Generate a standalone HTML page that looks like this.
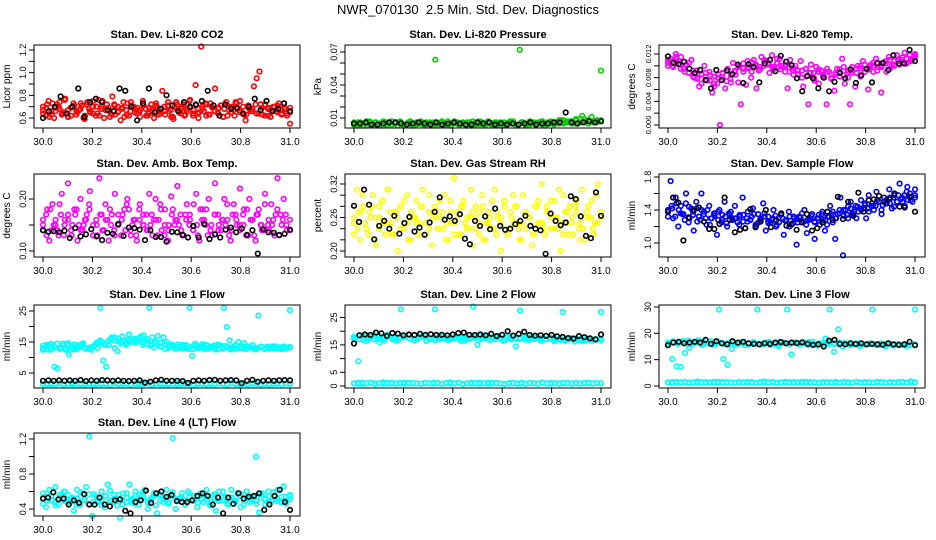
<!DOCTYPE html>
<html><head><meta charset="utf-8"><style>
html,body{margin:0;padding:0;background:#fff;}
svg{display:block;font-family:"Liberation Sans",Arial,sans-serif;}
</style></head><body>
<svg id="chart" width="936" height="540" viewBox="0 0 936 540" xmlns="http://www.w3.org/2000/svg">
<rect width="936" height="540" fill="#fff"/>
<text x="468" y="14" text-anchor="middle" font-size="13" xml:space="preserve">NWR_070130  2.5 Min. Std. Dev. Diagnostics</text>
</svg>
<script>
// ---- data ----
const xTicks = [30.0,30.2,30.4,30.6,30.8,31.0];
const xTickLabels = ["30.0","30.2","30.4","30.6","30.8","31.0"];

const co2Red1 = [0.70,0.62,0.75,0.66,0.60,0.72,0.68,0.64,0.77,0.61,0.69,0.73,0.63,0.67,0.71,0.59,0.74,0.65,0.70,0.62,0.76,0.68,0.60,0.72,0.66,0.79,0.63,0.70,0.58,0.74,0.67,0.62,0.71,0.65,0.69,0.61,0.75,0.68,0.64,0.72,0.60,0.70,0.66,0.84,0.63,0.71,0.67,0.59,0.74,0.65,0.70,0.62,0.68,0.76,0.64,0.89,0.60,1.23,0.66,0.72,0.63,0.69,0.86,0.65,0.71,0.61,0.74,0.67,0.70,0.62,0.68,0.75,0.64,0.58,0.71,0.66,0.88,0.95,1.01,0.63,0.72,0.68,0.61,0.70,0.66,0.73,0.64,0.69,0.62,0.55];
const co2Red2 = [0.64,0.69,0.61,0.73,0.66,0.70,0.63,0.76,0.67,0.62,0.71,0.65,0.68,0.60,0.72,0.66,0.64,0.70,0.62,0.75,0.67,0.69,0.63,0.71,0.65,0.68,0.61,0.73,0.66,0.70,0.64,0.67,0.72,0.62,0.69,0.65,0.71,0.63,0.68,0.66,0.74,0.61,0.70,0.67,0.64,0.72,0.66,0.69,0.62,0.71,0.65,0.68,0.73,0.63,0.70,0.66,0.64,0.71,0.68,0.62,0.69,0.67,0.73,0.65,0.70,0.63,0.68,0.66,0.72,0.64,0.69,0.71,0.62,0.67,0.70,0.65,0.68,0.73,0.64,0.69];
const co2Red3 = [0.67,0.72,0.63,0.69,0.74,0.65,0.61,0.70,0.66,0.73,0.62,0.68,0.75,0.64,0.70,0.67,0.61,0.72,0.66,0.69,0.63,0.74,0.68,0.65,0.71,0.62,0.67,0.73,0.64,0.70,0.66,0.61,0.72,0.68,0.63,0.75,0.67,0.64,0.70,0.62,0.73,0.66,0.69,0.61,0.71,0.65,0.74,0.67,0.63,0.70,0.68,0.64,0.72,0.62,0.69,0.66,0.71,0.63,0.68,0.65];
const co2Black = [0.60,0.66,0.70,0.79,0.64,0.70,0.86,0.61,0.74,0.77,0.74,0.67,0.66,0.86,0.84,0.70,0.58,0.73,0.86,0.65,0.68,0.80,0.71,0.66,0.74,0.70,0.72,0.75,0.84,0.71,0.62,0.72,0.68,0.69,0.64,0.70,0.77,0.67,0.75,0.66,0.68,0.73,0.66];

const presGreen1 = [0.005,0.004,0.006,0.003,0.005,0.007,0.004,0.006,0.003,0.005,0.006,0.004,0.007,0.005,0.003,0.006,0.004,0.005,0.007,0.003,0.006,0.005,0.004,0.006,0.005,0.003,0.063,0.005,0.006,0.004,0.007,0.003,0.005,0.006,0.004,0.005,0.003,0.006,0.007,0.004,0.005,0.006,0.003,0.005,0.004,0.006,0.005,0.003,0.006,0.004,0.007,0.005,0.004,0.072,0.006,0.003,0.005,0.006,0.004,0.005,0.007,0.003,0.006,0.005,0.004,0.006,0.008,0.005,0.006,0.007,0.005,0.009,0.006,0.012,0.007,0.005,0.011,0.006,0.007,0.053];
const presGreen2 = [0.006,0.003,0.005,0.007,0.004,0.006,0.005,0.003,0.006,0.004,0.005,0.007,0.003,0.006,0.005,0.004,0.006,0.003,0.005,0.006,0.004,0.007,0.005,0.003,0.006,0.004,0.005,0.006,0.003,0.005,0.007,0.004,0.006,0.005,0.003,0.006,0.004,0.005,0.007,0.003,0.006,0.005,0.004,0.006,0.005,0.007,0.004,0.006,0.005,0.008,0.006,0.007,0.005,0.008,0.006,0.009,0.007,0.006,0.008,0.007];
const presGreen3 = [0.004,0.006,0.005,0.003,0.006,0.004,0.005,0.007,0.004,0.003,0.006,0.005,0.004,0.006,0.003,0.005,0.007,0.004,0.006,0.005,0.003,0.006,0.004,0.005,0.007,0.004,0.006,0.003,0.005,0.006,0.004,0.005,0.007,0.003,0.006,0.005,0.004,0.006,0.005,0.003,0.006,0.004,0.007,0.005,0.006,0.004,0.005,0.007,0.006,0.005,0.008,0.006,0.007,0.005,0.009,0.006,0.008,0.007,0.006,0.008];
const presBlack = [0.005,0.005,0.006,0.004,0.004,0.005,0.006,0.006,0.005,0.004,0.005,0.006,0.005,0.004,0.006,0.004,0.005,0.006,0.005,0.004,0.004,0.006,0.005,0.006,0.004,0.005,0.004,0.005,0.004,0.005,0.006,0.004,0.005,0.005,0.006,0.006,0.015,0.006,0.005,0.006,0.007,0.006,0.007];

const tempMag1 = [0.0105,0.0112,0.0098,0.0120,0.0108,0.0115,0.0095,0.0102,0.0088,0.0110,0.0080,0.0092,0.0065,0.0085,0.0100,0.0075,0.0090,0.0055,0.0082,0.0070,0.0,0.0087,0.0062,0.0095,0.0078,0.0105,0.0085,0.0072,0.0035,0.0090,0.0068,0.0098,0.0080,0.0110,0.0062,0.0092,0.0115,0.0100,0.0108,0.0088,0.0118,0.0095,0.0105,0.0112,0.0098,0.0102,0.0062,0.0110,0.0092,0.0100,0.0085,0.0108,0.0065,0.0095,0.0035,0.0102,0.0088,0.0098,0.0070,0.0092,0.0080,0.0035,0.0090,0.0078,0.0058,0.0095,0.0082,0.0112,0.0070,0.0088,0.0035,0.0092,0.0065,0.0100,0.0082,0.0108,0.0095,0.0060,0.0102,0.0090,0.0112,0.0098,0.0055,0.0105,0.0090,0.0115,0.0100,0.0108,0.0118,0.0102,0.0110,0.0122,0.0105,0.0118,0.0110,0.0120];
const tempMag2 = [0.0110,0.0100,0.0115,0.0095,0.0090,0.0105,0.0082,0.0078,0.0070,0.0088,0.0075,0.0065,0.0085,0.0080,0.0092,0.0072,0.0090,0.0100,0.0095,0.0108,0.0090,0.0102,0.0098,0.0110,0.0105,0.0095,0.0112,0.0100,0.0090,0.0098,0.0085,0.0092,0.0080,0.0095,0.0088,0.0075,0.0090,0.0082,0.0095,0.0078,0.0085,0.0090,0.0098,0.0080,0.0088,0.0095,0.0100,0.0090,0.0098,0.0105,0.0092,0.0100,0.0108,0.0095,0.0102,0.0110,0.0105,0.0112,0.0108,0.0115];
const tempMag3 = [0.0100,0.0108,0.0112,0.0102,0.0096,0.0088,0.0092,0.0080,0.0086,0.0076,0.0084,0.0070,0.0080,0.0088,0.0074,0.0084,0.0092,0.0098,0.0104,0.0096,0.0106,0.0100,0.0094,0.0108,0.0102,0.0098,0.0104,0.0094,0.0100,0.0090,0.0096,0.0086,0.0092,0.0082,0.0088,0.0078,0.0094,0.0084,0.0090,0.0080,0.0088,0.0094,0.0084,0.0092,0.0098,0.0088,0.0096,0.0102,0.0094,0.0100,0.0106,0.0098,0.0104,0.0110,0.0100,0.0108,0.0114,0.0104,0.0112,0.0118];
const tempBlack = [0.0116,0.0105,0.0103,0.0107,0.0095,0.0088,0.0093,0.0076,0.0062,0.0093,0.0076,0.0092,0.0086,0.0102,0.0071,0.0103,0.0098,0.0072,0.0104,0.0110,0.0091,0.0117,0.0107,0.0101,0.0079,0.0057,0.0083,0.0079,0.0062,0.0080,0.0057,0.0073,0.0088,0.0079,0.0094,0.0071,0.0084,0.0095,0.0072,0.0104,0.0105,0.0093,0.0118,0.0104,0.0104,0.0127,0.0108];

const ambMag1 = [0.14,0.17,0.12,0.19,0.15,0.13,0.21,0.16,0.23,0.14,0.18,0.12,0.20,0.15,0.17,0.215,0.13,0.16,0.24,0.14,0.19,0.12,0.17,0.21,0.15,0.13,0.18,0.20,0.14,0.16,0.12,0.19,0.15,0.17,0.21,0.13,0.20,0.16,0.14,0.18,0.12,0.205,0.15,0.225,0.17,0.13,0.19,0.16,0.14,0.21,0.12,0.18,0.15,0.20,0.13,0.23,0.17,0.14,0.20,0.16,0.12,0.19,0.15,0.22,0.17,0.13,0.20,0.16,0.12,0.18,0.14,0.21,0.15,0.19,0.13,0.24,0.17,0.20,0.14,0.16];
const ambMag2 = [0.16,0.13,0.18,0.15,0.14,0.17,0.15,0.16,0.13,0.17,0.15,0.14,0.16,0.18,0.13,0.15,0.17,0.14,0.16,0.15,0.13,0.17,0.16,0.14,0.18,0.15,0.13,0.16,0.17,0.14,0.15,0.16,0.13,0.18,0.15,0.14,0.17,0.16,0.15,0.13,0.16,0.17,0.14,0.15,0.18,0.16,0.13,0.15,0.17,0.14,0.16,0.15,0.13,0.17,0.16,0.14,0.15,0.18,0.16,0.13,0.17,0.15,0.14,0.16,0.15,0.17,0.13,0.16,0.15,0.14];
const ambMag3 = [0.15,0.18,0.14,0.16,0.19,0.13,0.17,0.15,0.18,0.14,0.16,0.19,0.15,0.13,0.17,0.16,0.18,0.14,0.15,0.17,0.19,0.13,0.16,0.18,0.15,0.14,0.17,0.16,0.19,0.13,0.15,0.18,0.16,0.14,0.17,0.15,0.19,0.13,0.16,0.18,0.14,0.17,0.15,0.16,0.19,0.14,0.17,0.15,0.18,0.13,0.16,0.17,0.15,0.19,0.14,0.16,0.18,0.15,0.17,0.14];
const ambBlack = [0.140,0.137,0.138,0.136,0.139,0.125,0.144,0.128,0.132,0.142,0.128,0.121,0.135,0.133,0.152,0.129,0.145,0.144,0.141,0.121,0.140,0.127,0.127,0.118,0.137,0.136,0.131,0.126,0.148,0.126,0.152,0.123,0.132,0.126,0.141,0.145,0.136,0.143,0.131,0.140,0.095,0.142,0.136,0.135,0.131,0.133,0.141];

const rhYel1 = [0.25,0.31,0.22,0.28,0.24,0.27,0.30,0.21,0.26,0.29,0.23,0.31,0.25,0.27,0.20,0.28,0.24,0.30,0.22,0.26,0.29,0.25,0.31,0.23,0.27,0.21,0.28,0.24,0.26,0.30,0.22,0.25,0.33,0.27,0.23,0.29,0.24,0.26,0.21,0.28,0.25,0.30,0.22,0.27,0.24,0.31,0.26,0.20,0.29,0.23,0.27,0.25,0.28,0.22,0.30,0.24,0.26,0.21,0.28,0.25,0.32,0.23,0.27,0.29,0.24,0.26,0.20,0.30,0.25,0.28,0.23,0.27,0.24,0.31,0.22,0.26,0.29,0.25,0.32,0.27];
const rhYel2 = [0.26,0.24,0.27,0.25,0.23,0.28,0.26,0.24,0.29,0.25,0.27,0.23,0.26,0.28,0.24,0.25,0.27,0.26,0.23,0.28,0.25,0.24,0.27,0.26,0.29,0.24,0.25,0.27,0.23,0.26,0.28,0.25,0.24,0.27,0.26,0.23,0.28,0.25,0.26,0.24,0.27,0.25,0.29,0.23,0.26,0.28,0.24,0.25,0.27,0.26,0.23,0.28,0.25,0.24,0.27,0.26,0.29,0.24,0.25,0.27,0.23,0.26,0.28,0.25,0.24,0.27,0.26,0.23,0.25,0.27];
const rhYel3 = [0.23,0.27,0.30,0.24,0.26,0.22,0.28,0.25,0.31,0.23,0.27,0.24,0.29,0.22,0.26,0.25,0.28,0.23,0.30,0.26,0.24,0.27,0.22,0.29,0.25,0.23,0.28,0.26,0.31,0.24,0.27,0.22,0.25,0.29,0.23,0.26,0.28,0.24,0.30,0.25,0.22,0.27,0.26,0.23,0.29,0.25,0.28,0.24,0.26,0.31,0.23,0.27,0.25,0.29,0.22,0.26,0.28,0.24,0.30,0.26];
const rhBlack = [0.281,0.252,0.310,0.283,0.221,0.245,0.254,0.240,0.263,0.231,0.250,0.261,0.235,0.242,0.229,0.251,0.270,0.296,0.256,0.262,0.254,0.266,0.222,0.212,0.254,0.245,0.262,0.239,0.276,0.245,0.238,0.240,0.248,0.254,0.263,0.245,0.240,0.237,0.195,0.267,0.254,0.246,0.251,0.298,0.293,0.262,0.227,0.223,0.305,0.263];

const flowBlue1 = [1.40,1.75,1.30,1.55,1.20,1.45,1.35,1.60,1.25,1.42,1.15,1.50,1.32,1.60,1.38,1.22,1.45,1.30,1.35,1.10,1.40,1.28,1.50,1.20,1.35,1.30,1.45,1.25,1.32,1.55,1.18,1.38,1.28,1.42,1.22,1.35,1.30,1.48,1.15,1.32,1.25,1.40,1.20,1.30,1.35,1.10,1.28,1.38,1.22,1.30,0.98,1.32,1.25,1.40,1.12,1.28,1.35,1.05,1.30,1.22,1.38,1.15,1.32,1.45,1.25,1.05,1.35,1.55,0.85,1.40,1.30,1.50,1.35,1.45,1.38,1.52,1.42,1.30,1.58,1.45,1.40,1.62,1.50,1.35,1.55,1.48,1.65,1.42,1.58,1.50,1.72,1.55,1.45,1.68,1.60,1.50,1.65];
const flowBlue2 = [1.38,1.45,1.32,1.40,1.35,1.48,1.30,1.38,1.42,1.28,1.35,1.40,1.30,1.33,1.38,1.25,1.32,1.36,1.28,1.30,1.34,1.26,1.30,1.28,1.35,1.24,1.30,1.32,1.26,1.28,1.33,1.25,1.30,1.27,1.32,1.24,1.29,1.31,1.26,1.28,1.33,1.25,1.30,1.35,1.28,1.32,1.38,1.30,1.36,1.40,1.34,1.42,1.38,1.44,1.40,1.46,1.42,1.48,1.45,1.50,1.46,1.52,1.48,1.55,1.50,1.53,1.58,1.52,1.56,1.55];
const flowBlue3 = [1.32,1.42,1.48,1.36,1.28,1.44,1.34,1.26,1.40,1.30,1.22,1.36,1.28,1.34,1.24,1.38,1.30,1.22,1.34,1.26,1.32,1.20,1.28,1.36,1.24,1.30,1.22,1.34,1.27,1.20,1.32,1.25,1.36,1.22,1.30,1.26,1.34,1.28,1.22,1.35,1.30,1.40,1.33,1.44,1.36,1.30,1.42,1.48,1.38,1.45,1.52,1.40,1.48,1.55,1.44,1.58,1.50,1.62,1.52,1.58];
const flowBlack = [1.38,1.55,1.49,1.03,1.31,1.40,1.43,1.26,1.17,1.17,1.23,1.55,1.28,1.13,1.16,1.18,1.41,1.19,1.26,1.40,1.19,1.28,1.36,1.21,1.23,1.16,1.25,1.35,1.15,1.18,1.25,1.38,1.28,1.56,1.29,1.50,1.33,1.61,1.38,1.52,1.53,1.57,1.50,1.53,1.60,1.44,1.43,1.56,1.38];

const line1Cyan1 = [12.5,13.5,14,12.8,7,6.5,13.2,14.5,12.5,11,13.8,14.2,12.7,13.5,14.6,12.9,13.2,12.5,14,13.1,26,9,7,14,16.5,13,12,14.5,15.5,14,17.5,15,16,15.5,16.8,17.2,16,26,16.5,15.2,17,14.8,16.5,15,14,13.5,12.8,14.2,13.2,14,13,26,10.5,14.5,13,13.6,12.8,14,13,13.5,12.6,14.2,13.8,26,19.8,15.5,13,14,15,13.2,14.6,12.8,13.5,14,12.6,23.5,13.4,12.8,13.5,13,12.9,13.6,13.2,12.7,13.5,13,25.3];
const line1Cyan2 = [13,14,12.5,13.5,14.5,13,12.8,14,13.2,12.6,13.8,14.2,13,12.7,13.5,14.8,15.5,14.2,15,16,15.5,16.2,15,14.5,16,15.2,14.8,15.5,14,14.5,13.8,13.2,14,13.5,12.8,13.6,14.2,13,13.5,12.9,14,13.3,12.7,13.8,13.2,14.2,12.8,13.5,13.9,12.6,13.2,13.7,12.9,13.4,12.8,13.2,13.6,12.9,13.3,12.7,13.1,13.5,12.8,13.2,13.6,12.9,13.3,12.8,13.1,13.4];
const line1Cyan3 = [13.8,12.6,14.4,13.2,12.8,13.9,14.6,12.7,13.4,14.1,13.0,12.9,13.6,14.3,15.0,14.0,15.8,16.5,15.2,16.8,14.6,15.9,15.3,16.4,14.8,15.6,14.2,14.9,13.6,14.4,13.1,13.8,12.9,14.0,13.3,12.7,13.9,13.2,14.3,12.8,13.5,13.0,14.1,12.9,13.4,12.6,13.7,13.1,12.8,13.6,13.2,12.7,13.5,13.0,12.9,13.4,12.8,13.3,13.0,13.2];
const line1CyanLow = [1.5,1.3,1.7,1.4,1.6,1.2,1.5,1.8,1.4,1.6,1.3,1.5,1.7,1.4,1.6,1.5,1.3,1.7,1.5,1.4,1.6,1.3,1.5,1.8,1.4,1.6,1.2,1.5,1.7,1.4,1.6,1.5,1.3,1.7,1.5,1.4,1.2,1.6,1.5,1.3,1.7,1.4,1.6,1.5,1.3,1.7,1.4,1.6,1.5,1.3,1.7,1.5,1.4,1.6,1.3,1.5,1.7,1.4,1.6,1.5];
const line1CyanLow2 = [1.4,1.6,1.3,1.5,1.7,1.4,1.5,1.3,1.6,1.4,1.5,1.7,1.3,1.6,1.4,1.5,1.3,1.6,1.4,1.7,1.5,1.3,1.6,1.4,1.5,1.7,1.3,1.5,1.4,1.6,1.3,1.5,1.7,1.4,1.6,1.5,1.3,1.4,1.6,1.5,1.4,1.3,1.6,1.5,1.4,1.7,1.5,1.3,1.6,1.4,1.5,1.6,1.3,1.5,1.4,1.6,1.5,1.4,1.6,1.5];
const line1Black = [2.5,2.6,2.5,2.6,2.5,2.6,2.5,2.7,2.4,2.6,2.5,2.7,2.6,2.5,2.6,2.5,2.4,2.5,2.6,1.9,2.2,2.6,2.8,2.5,2.5,2.5,2.4,1.8,2.5,2.6,2.5,2.7,2.8,2.5,2.6,2.7,2.6,1.7,2.5,2.8,2.2,2.5,2.6,2.5,2.6,2.7,2.6];

const line2Cyan1 = [17.5,9,18.5,16.5,17.8,18.2,16,17.5,18.8,17,16.5,28,17.8,18.5,16.8,17.2,18,16.5,17.5,28,17,18.2,16.8,17.5,18,16.5,17.2,18.5,29,15,17.5,18,16.8,17.2,18.3,16.5,17.8,17,14.5,27.5,18,16.8,17.2,18,16.5,17,17.5,16.3,17,27,16.8,17.5,16.2,17,16.5,17.2,16.8,17,27];
const line2Cyan2 = [18,17,18.5,17.5,17,18.2,17.5,18,17.2,17.8,18.3,17.5,17,17.8,18,17.3,17.6,18.1,17.2,17.7,18,17.4,17.8,17.1,17.6,18.2,17.4,17.8,17.2,17.5,18,17.3,17.6,17.1,17.5,17.8,17.2,17.4,17,17.6,17.3,16.8,17.2,17.5,16.9,17.3,16.8,17,17.2,16.7];
const line2Cyan3 = [17.2,18.4,16.8,17.9,18.6,17.1,16.6,18.2,17.5,16.9,18.0,17.3,16.7,17.8,18.3,17.0,16.8,17.6,18.1,16.9,17.4,17.9,16.6,17.7,18.2,17.0,17.5,16.8,17.9,17.3,16.7,18.0,17.2,17.6,16.9,17.4,17.8,16.6,17.1,17.5,16.8,17.3,16.5,17.0,17.4,16.7,17.1,16.6,16.9,17.2];
const line2CyanLow = [1,0.8,1.2,0.9,1.1,0.7,1,1.3,0.9,1.1,0.8,1,1.2,0.9,1.1,1,0.8,1.2,1,0.9,1.1,0.8,1,1.3,0.9,1.1,0.7,1,1.2,0.9,1.1,1,0.8,1.2,1,0.9,0.7,1.1,1,0.8,1.2,0.9,1.1,1,0.8,1.2,0.9,1.1,1,0.8,1.2,1,0.9,1.1,0.8,1,1.2,0.9,1.1,1];
const line2CyanLow2 = [0.9,1.1,0.8,1.0,1.2,0.9,1.0,0.8,1.1,0.9,1.0,1.2,0.8,1.1,0.9,1.0,0.8,1.1,0.9,1.2,1.0,0.8,1.1,0.9,1.0,1.2,0.8,1.0,0.9,1.1,0.8,1.0,1.2,0.9,1.1,1.0,0.8,0.9,1.1,1.0,0.9,0.8,1.1,1.0,0.9,1.2,1.0,0.8,1.1,0.9,1.0,1.1,0.8,1.0,0.9,1.1,1.0,0.9,1.1,1.0];
const line2Black = [15.5,18.5,18.8,18.6,19.5,19.2,18.3,19.3,19.1,18.5,18.8,18.6,19,18.7,18.9,18.6,18.7,18.5,18.8,19.3,19.5,18.7,18.6,18.8,18.5,19,18.2,18.7,20,18.4,19,19.8,18.6,18.4,18.5,18.3,18.6,18.1,17.9,17.5,17.3,18.2,17.8,17.4,17,18.8];

const line3Cyan1 = [16,10.2,7.5,7.2,12.5,14.5,16,16.8,15.5,16.2,17,15.8,29,10.2,8,14,15.8,16.5,15.5,16.2,16,29,15.8,16.5,15.5,16,15.2,16.3,29,12,16.5,15.8,16.2,15.5,16.8,15.3,16,18,29,13,21.5,15,16,15.5,16.2,15.2,15.8,16,29,15.5,16.2,15,15.8,15.3,16,15.5,15.2,15.8,29];
const line3Cyan2 = [16.5,17,16,16.8,17.2,16.3,16.7,17,16.2,16.5,16.8,16,16.4,16.7,16.1,16.5,16.2,16.6,16,16.4,16.7,16.1,16.3,16.6,16,16.4,16.2,16.5,16.8,16.1,16.3,16.6,16,16.2,16.5,15.9,16.3,16,16.2,15.8,16.1,15.8,16,15.7,16,15.8,15.6,15.9,15.7,15.8];
const line3Cyan3 = [15.8,16.9,16.3,17.1,15.9,16.6,17.3,16.0,16.4,15.7,16.8,16.2,15.9,16.6,16.0,16.3,15.8,16.7,16.1,15.9,16.5,16.2,15.7,16.4,16.0,16.6,15.8,16.2,16.5,15.9,16.1,15.7,16.4,16.0,15.8,16.3,15.6,16.1,15.9,15.7,16.2,15.8,15.5,16.0,15.7,15.9,15.6,15.8,15.5,15.7];
const line3CyanLow = [1.4,1.2,1.6,1.3,1.5,1.1,1.4,1.7,1.3,1.5,1.2,1.4,1.6,1.3,1.5,1.4,1.2,1.6,1.4,1.3,1.5,1.2,1.4,1.7,1.3,1.5,1.1,1.4,1.6,1.3,1.5,1.4,1.2,1.6,1.4,1.3,1.1,1.5,1.4,1.2,1.6,1.3,1.5,1.4,1.2,1.6,1.3,1.5,1.4,1.2,1.6,1.4,1.3,1.5,1.2,1.4,1.6,1.3,1.8,1.4];
const line3CyanLow2 = [1.3,1.5,1.2,1.4,1.6,1.3,1.4,1.2,1.5,1.3,1.4,1.6,1.2,1.5,1.3,1.4,1.2,1.5,1.3,1.6,1.4,1.2,1.5,1.3,1.4,1.6,1.2,1.4,1.3,1.5,1.2,1.4,1.6,1.3,1.5,1.4,1.2,1.3,1.5,1.4,1.3,1.2,1.5,1.4,1.3,1.6,1.4,1.2,1.5,1.3,1.4,1.5,1.2,1.4,1.3,1.5,1.4,1.3,1.5,1.4];
const line3Black = [15.5,16.5,16.8,16.2,16.5,16.8,16.5,17.5,16,17,16.2,15.8,17,16.5,16.8,16.2,16,15.8,16.2,16,16.5,16.7,16.2,16.5,16.3,16.6,16,15.6,15.8,15,17.2,17.5,16,15.8,16.2,15.9,16.2,15.8,16,15.8,15.7,16.2,15.8,15.6,15.8,16.8,15.5];

const line4Cyan1 = [0.58,0.42,0.62,0.5,0.65,0.45,0.55,0.6,0.48,0.52,0.38,0.62,0.45,0.57,0.65,1.23,0.32,0.55,0.48,0.6,0.42,0.68,0.5,0.56,0.44,0.3,0.58,0.48,0.68,0.52,0.6,0.45,0.55,0.62,0.4,0.5,0.58,0.35,0.56,0.48,0.62,0.55,1.21,0.4,0.52,0.58,0.45,0.6,0.5,0.55,0.42,0.58,0.48,0.62,0.45,0.55,0.38,0.6,0.5,0.54,0.45,0.62,0.5,0.58,0.42,0.56,0.6,0.48,0.52,1.0,0.36,0.58,0.45,0.6,0.5,0.55,0.62,0.48,0.66,0.5,0.55];
const line4Cyan2 = [0.52,0.5,0.55,0.48,0.53,0.5,0.56,0.49,0.52,0.54,0.5,0.57,0.48,0.53,0.5,0.55,0.49,0.52,0.56,0.5,0.53,0.48,0.55,0.51,0.54,0.49,0.52,0.56,0.5,0.53,0.48,0.55,0.51,0.52,0.5,0.54,0.49,0.53,0.51,0.55,0.48,0.52,0.5,0.54,0.51,0.53,0.49,0.55,0.5,0.52,0.54,0.49,0.53,0.51,0.55,0.5,0.52,0.48,0.54,0.51];
const line4Cyan3 = [0.46,0.58,0.50,0.44,0.56,0.60,0.47,0.53,0.45,0.59,0.51,0.46,0.57,0.49,0.44,0.55,0.61,0.48,0.52,0.45,0.58,0.50,0.46,0.56,0.60,0.47,0.53,0.44,0.57,0.51,0.46,0.59,0.49,0.54,0.45,0.58,0.50,0.47,0.56,0.52,0.44,0.57,0.49,0.60,0.46,0.53,0.48,0.58,0.45,0.55,0.50,0.46,0.57,0.52,0.47,0.59,0.49,0.54,0.46,0.56];
const line4Black = [0.52,0.53,0.59,0.51,0.52,0.45,0.5,0.47,0.57,0.45,0.45,0.53,0.45,0.43,0.5,0.51,0.38,0.35,0.48,0.5,0.61,0.47,0.58,0.6,0.54,0.56,0.49,0.48,0.48,0.5,0.55,0.58,0.55,0.45,0.53,0.35,0.53,0.46,0.58,0.52,0.54,0.55,0.58,0.39,0.45,0.55,0.62,0.48,0.39];

// ---- layout & drawing ----
const NS = "http://www.w3.org/2000/svg";
const svg = document.getElementById("chart");
const colLeft = [34,345,659], rowTop = [45,174,305,433];
const boxW = 266, boxH = 83;

const panels = [
 {name:"co2",col:0,row:0,title:"Stan. Dev. Li-820 CO2",ylab:"Licor ppm",vA:1.2,oA:5,vB:0.6,oB:73,ticks:[0.6,0.7,0.8,0.9,1.0,1.1,1.2],labels:[0.6,0.8,1.0,1.2],dec:1,series:[["#ff0000",co2Red1],["#ff0000",co2Red2],["#ff0000",co2Red3],["#000000",co2Black]]},
 {name:"pressure",col:1,row:0,title:"Stan. Dev. Li-820 Pressure",ylab:"kPa",vA:0.07,oA:7,vB:0.01,oB:73,ticks:[0.01,0.02,0.03,0.04,0.05,0.06,0.07],labels:[0.01,0.04,0.07],dec:2,series:[["#00cc00",presGreen1],["#00cc00",presGreen2],["#00cc00",presGreen3],["#000000",presBlack]]},
 {name:"temp",col:2,row:0,title:"Stan. Dev. Li-820 Temp.",ylab:"degrees C",vA:0.012,oA:9,vB:0,oB:80,ticks:[0,0.002,0.004,0.006,0.008,0.010,0.012],labels:[0,0.004,0.008,0.012],dec:3,series:[["#ff00ff",tempMag1],["#ff00ff",tempMag2],["#ff00ff",tempMag3],["#000000",tempBlack]]},
 {name:"amb-box-temp",col:0,row:1,title:"Stan. Dev. Amb. Box Temp.",ylab:"degrees C",vA:0.20,oA:25,vB:0.10,oB:77,ticks:[0.10,0.15,0.20],labels:[0.10,0.20],dec:2,series:[["#ff00ff",ambMag1],["#ff00ff",ambMag2],["#ff00ff",ambMag3],["#000000",ambBlack]]},
 {name:"gas-stream-rh",col:1,row:1,title:"Stan. Dev. Gas Stream RH",ylab:"percent",vA:0.32,oA:10,vB:0.20,oB:77,ticks:[0.20,0.22,0.24,0.26,0.28,0.30,0.32],labels:[0.20,0.26,0.32],dec:2,series:[["#ffff00",rhYel1],["#ffff00",rhYel2],["#ffff00",rhYel3],["#000000",rhBlack]]},
 {name:"sample-flow",col:2,row:1,title:"Stan. Dev. Sample Flow",ylab:"ml/min",vA:1.8,oA:3,vB:1.0,oB:69,ticks:[1.0,1.2,1.4,1.6,1.8],labels:[1.0,1.4,1.8],dec:1,series:[["#0000ff",flowBlue1],["#0000ff",flowBlue2],["#0000ff",flowBlue3],["#000000",flowBlack]]},
 {name:"line1-flow",col:0,row:2,title:"Stan. Dev. Line 1 Flow",ylab:"ml/min",vA:25,oA:6,vB:5,oB:68,ticks:[5,10,15,20,25],labels:[5,15,25],dec:0,series:[["#00ffff",line1Cyan1],["#00ffff",line1Cyan2],["#00ffff",line1Cyan3],["#00ffff",line1CyanLow],["#00ffff",line1CyanLow2],["#000000",line1Black]]},
 {name:"line2-flow",col:1,row:2,title:"Stan. Dev. Line 2 Flow",ylab:"ml/min",vA:25,oA:12.5,vB:0,oB:81,ticks:[0,5,10,15,20,25],labels:[0,5,15,25],dec:0,series:[["#00ffff",line2Cyan1],["#00ffff",line2Cyan2],["#00ffff",line2Cyan3],["#00ffff",line2CyanLow],["#00ffff",line2CyanLow2],["#000000",line2Black]]},
 {name:"line3-flow",col:2,row:2,title:"Stan. Dev. Line 3 Flow",ylab:"ml/min",vA:30,oA:2,vB:0,oB:81,ticks:[0,10,20,30],labels:[0,10,20,30],dec:0,series:[["#00ffff",line3Cyan1],["#00ffff",line3Cyan2],["#00ffff",line3Cyan3],["#00ffff",line3CyanLow],["#00ffff",line3CyanLow2],["#000000",line3Black]]},
 {name:"line4-flow",col:0,row:3,title:"Stan. Dev. Line 4 (LT) Flow",ylab:"ml/min",vA:1.2,oA:6,vB:0.4,oB:76,ticks:[0.4,0.6,0.8,1.0,1.2],labels:[0.4,0.8,1.2],dec:1,series:[["#00ffff",line4Cyan1],["#00ffff",line4Cyan2],["#00ffff",line4Cyan3],["#000000",line4Black]]}
];

function mk(tag, attrs, parent){
  const e = document.createElementNS(NS, tag);
  for (const k in attrs) e.setAttribute(k, attrs[k]);
  (parent||svg).appendChild(e);
  return e;
}

panels.forEach(p => {
  const L = colLeft[p.col], T = rowTop[p.row];
  const xScale = v => L + 9 + (v - 30) * 247;
  const yScale = v => T + p.oA + (v - p.vA) * (p.oB - p.oA) / (p.vB - p.vA);
  const g = mk("g", {});
  
  

  const t = mk("text", {x: L + boxW/2, y: T - 7, "text-anchor":"middle", "font-size":"11", "font-weight":"bold"}, g);
  t.textContent = p.title;
  
  

  const yl = mk("text", {x: 0, y: 0, "text-anchor":"middle", "font-size":"10", transform:`translate(${L-24},${T+boxH/2}) rotate(-90)`}, g);
  yl.textContent = p.ylab;
  
  

  const pg = mk("g", {fill:"none", "stroke-width":"1.6"}, g);
  
  
  p.series.forEach(([color, vals]) => {
    const n = vals.length;
    vals.forEach((v, i) => {
      const cx = xScale(30 + i / (n - 1));
      const cy = yScale(v);
      const c = mk("circle", {cx: cx.toFixed(1), cy: cy.toFixed(1), r: "2.3", stroke: color}, pg);
      
      
    });
  });

  const box = mk("rect", {x: L, y: T, width: boxW, height: boxH, fill:"none", stroke:"#000", "stroke-width":"1"}, g);
  
  

  xTicks.forEach((v, i) => {
    const x = xScale(v);
    mk("line", {x1:x, x2:x, y1:T+boxH, y2:T+boxH+5, stroke:"#000"}, g);
    const tl = mk("text", {x:x, y:T+boxH+17, "text-anchor":"middle", "font-size":"10"}, g);
    tl.textContent = xTickLabels[i];
    
    
  });
  p.ticks.forEach(v => {
    const y = yScale(v);
    mk("line", {x1:L-5, x2:L, y1:y, y2:y, stroke:"#000"}, g);
  });
  p.labels.forEach(v => {
    const y = yScale(v);
    const fs = p.dec === 3 ? "7.5" : "9";
    const tl = mk("text", {x:0, y:0, "text-anchor":"middle", "font-size":fs, transform:`translate(${L-8},${y}) rotate(-90)`}, g);
    tl.textContent = v.toFixed(p.dec);
    
    
  });
});
</script>
</body></html>
